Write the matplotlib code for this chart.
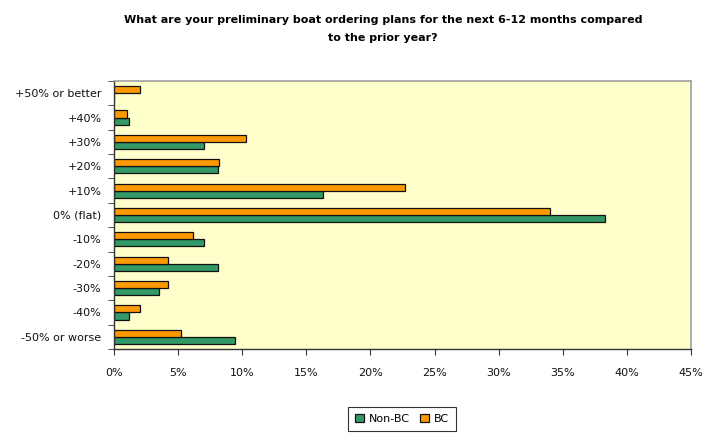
import matplotlib
matplotlib.use("Agg")
from matplotlib import pyplot as plt
from matplotlib.ticker import FixedLocator
import numpy as np

# Categories, bottom to top as drawn
categories = ["-50% or worse", "-40%", "-30%", "-20%", "-10%", "0% (flat)",
              "+10%", "+20%", "+30%", "+40%", "+50% or better"]
non_bc = [9.4, 1.2, 3.5, 8.1, 7.0, 38.3, 16.3, 8.1, 7.0, 1.2, 0.0]
bc = [5.2, 2.0, 4.2, 4.2, 6.2, 34.0, 22.7, 8.2, 10.3, 1.0, 2.0]
x_ticks = [0, 5, 10, 15, 20, 25, 30, 35, 40, 45]

GREEN = "#339966"
ORANGE = "#FF9900"
BG = "#FFFFCC"

fig = plt.figure(figsize=(7.17, 4.33), dpi=100)
ax = fig.add_axes([114 / 717, 1 - 349 / 433, 577 / 717, 268 / 433])
ax.set_facecolor(BG)

y = np.arange(len(categories))
h = 0.29
ax.barh(y - h / 2, non_bc, height=h, color=GREEN, edgecolor="#111111",
        linewidth=0.9, label="Non-BC")
ax.barh(y + h / 2, bc, height=h, color=ORANGE, edgecolor="#111111",
        linewidth=0.9, label="BC")

ax.set_xlim(0, 45)
ax.set_ylim(-0.5, len(categories) - 0.5)

ax.xaxis.set_major_locator(FixedLocator(x_ticks))
ax.set_xticklabels([f"{t}%" for t in x_ticks])
ax.yaxis.set_major_locator(FixedLocator(y))
ax.set_yticklabels(categories)
# Excel-style ticks between categories
ax.yaxis.set_minor_locator(FixedLocator(np.arange(-0.5, len(categories), 1.0)))
ax.tick_params(axis="y", which="major", length=0, pad=9)
ax.tick_params(axis="y", which="minor", length=4, color="#333333")
ax.tick_params(axis="x", length=4, color="#333333", pad=10)
ax.tick_params(labelsize=8, labelcolor="#111111")

for side in ("top", "right"):
    ax.spines[side].set_color("#A0A0A0")
    ax.spines[side].set_linewidth(1.2)
for side in ("left", "bottom"):
    ax.spines[side].set_color("#333333")
    ax.spines[side].set_linewidth(1.0)

fig.text(383 / 717, 1 - 29 / 433,
         "What are your preliminary boat ordering plans for the next 6-12 months compared\nto the prior year?",
         ha="center", va="center", fontsize=8, fontweight="bold",
         linespacing=1.9)

leg = fig.legend(loc="center", bbox_to_anchor=(402 / 717, 1 - 419 / 433),
                 ncol=2, fontsize=8, frameon=True, fancybox=False,
                 handlelength=0.8, handleheight=0.8, handletextpad=0.4,
                 columnspacing=1.0, borderpad=0.6)
leg.get_frame().set_edgecolor("black")
leg.get_frame().set_linewidth(0.8)

fig.savefig("out.png", dpi=100)
